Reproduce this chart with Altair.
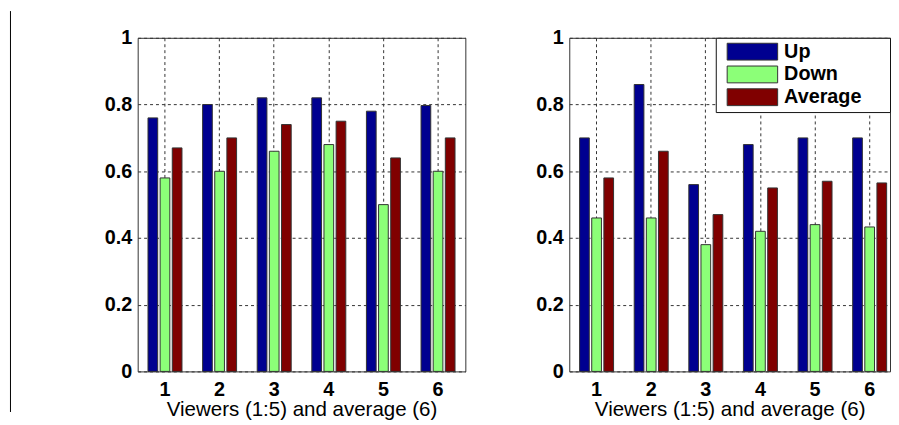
import altair as alt
import pandas as pd

viewers = [1, 2, 3, 4, 5, 6]
series = ["Up", "Down", "Average"]
colors = ["#000090", "#8CFF78", "#800000"]

left_up = [0.76, 0.80, 0.82, 0.82, 0.78, 0.797]
left_down = [0.58, 0.60, 0.66, 0.68, 0.50, 0.60]
left_avg = [0.67, 0.70, 0.74, 0.75, 0.64, 0.70]

right_up = [0.70, 0.86, 0.56, 0.68, 0.70, 0.70]
right_down = [0.46, 0.46, 0.38, 0.42, 0.44, 0.433]
right_avg = [0.58, 0.66, 0.47, 0.55, 0.57, 0.565]

y_ticks = [0, 0.2, 0.4, 0.6, 0.8, 1]
x_title = "Viewers (1:5) and average (6)"
FONT = "Liberation Sans"


def long_df(up, down, avg):
    rows = []
    for i, v in enumerate(viewers):
        for s, vals in zip(series, [up, down, avg]):
            rows.append({"viewer": v, "series": s, "value": vals[i]})
    return pd.DataFrame(rows)


def bars(df, legend, width, xscale):
    return alt.Chart(df).mark_bar(stroke="#333333", strokeWidth=1).encode(
        x=alt.X("viewer:O", sort=viewers, scale=xscale,
                axis=alt.Axis(title=x_title, titleFont=FONT, titleFontSize=20.7,
                              titleFontWeight="normal", titleColor="black",
                              titlePadding=1,
                              labelAngle=0, labelFont=FONT, labelFontSize=20,
                              labelFontWeight="bold", labelColor="black",
                              labelPadding=8, ticks=False, domain=False,
                              grid=True, bandPosition=0.5, gridColor="#333333",
                              gridDash=[3, 3], gridOpacity=1)),
        xOffset=alt.XOffset("series:N", sort=series,
                            scale=alt.Scale(paddingInner=0.2, paddingOuter=0.1)),
        y=alt.Y("value:Q", scale=alt.Scale(domain=[0, 1], nice=False),
                axis=alt.Axis(values=y_ticks, format=".1~f", title=None,
                              labelFont=FONT, labelFontSize=20,
                              labelFontWeight="bold", labelColor="black",
                              labelPadding=6, ticks=False, domain=False,
                              grid=True, gridColor="#333333", gridDash=[3, 3],
                              gridOpacity=1)),
        color=alt.Color("series:N", sort=series,
                        scale=alt.Scale(domain=series, range=colors),
                        legend=legend),
    ).properties(width=width, height=337)


left_df = long_df(left_up, left_down, left_avg)
right_df = long_df(right_up, right_down, right_avg)

sep = alt.Chart(pd.DataFrame({"a": [0]})).mark_rule(
    color="black", strokeWidth=1
).encode(x=alt.value(-128.5), y=alt.value(-27), y2=alt.value(378))

left = alt.layer(
    bars(left_df, None, 331,
         alt.Scale(paddingInner=0.3333, paddingOuter=0.16667)),
    sep,
)

# the legend box runs on to the right edge of the panel, as in the original;
# an invisible spacer title on the right widens it
legend = alt.Legend(
    title="MMM", titleOrient="right", titleFontSize=10, titleOpacity=0,
    titlePadding=0,
    orient="top-right", offset=0,
    direction="vertical",
    padding=4, rowPadding=1,
    fillColor="white", strokeColor="#111111", cornerRadius=0,
    symbolType="M-3,-1H3V1H-3Z", symbolSize=289, symbolOffset=23,
    symbolStrokeColor="#333333", symbolStrokeWidth=1, symbolOpacity=1,
    labelOffset=22, labelFont=FONT, labelFontSize=20, labelFontWeight="bold",
    labelColor="black",
)

right = bars(right_df, legend, 324,
             alt.Scale(paddingInner=0.3333, paddingOuter=0.103, align=0.809))

chart = alt.hconcat(left, right, spacing=69).resolve_scale(
    color="independent"
).properties(
    padding={"left": 1, "top": 0, "right": 0, "bottom": 0}
).configure_view(stroke="#333333", strokeWidth=1)

chart.save("out.html", embed_options={"renderer": "svg", "actions": False})
